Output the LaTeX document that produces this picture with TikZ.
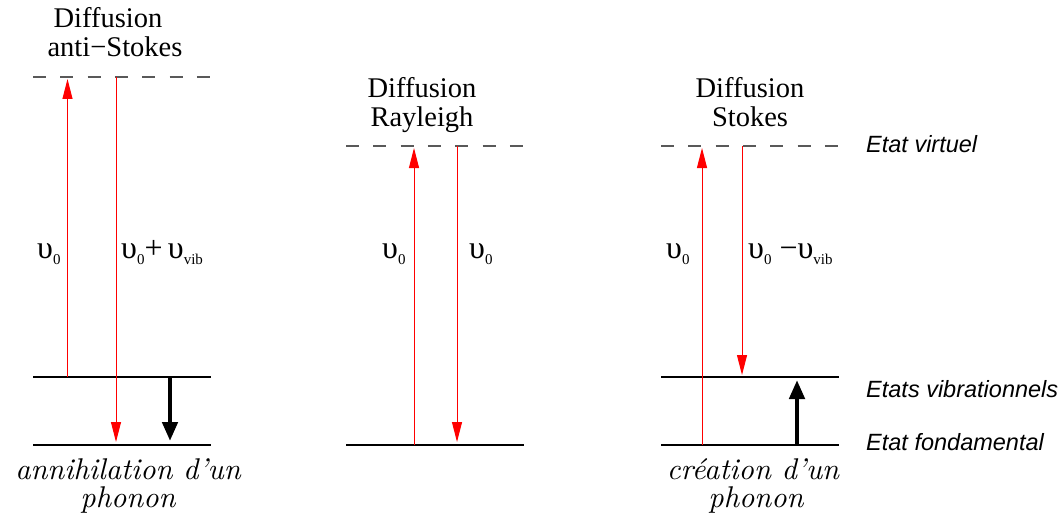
\documentclass[tikz,border=0pt]{standalone}
\usepackage{fontspec}
\usepackage{graphicx}
\newfontfamily\tnr{Liberation Serif}
\newfontfamily\hel{Liberation Sans}
\usetikzlibrary{arrows.meta}
\newcommand\lowsub[1]{\raisebox{-6pt}{\fontsize{15}{15}\selectfont #1}}
\newcommand\bigit[1]{\scalebox{3}{\itshape\fontsize{10}{11}\selectfont #1}}
\begin{document}
\begin{tikzpicture}[x=1pt,y=-1pt,
  level/.style={line width=1.1pt, black},
  virt/.style={line width=1.1pt, black!65, dash pattern=on 13pt off 14.3pt},
  photon/.style={red, line width=1pt, -{Triangle[length=20pt,width=10pt]}},
  phonon/.style={black, line width=4.5pt, -{Triangle[length=19pt,width=15pt]}},
  title/.style={font={\tnr\fontsize{28.5}{30}\selectfont}, anchor=base, inner sep=0pt},
  freq/.style={font={\tnr\fontsize{32}{34}\selectfont}, anchor=base west, inner sep=0pt},
  caption/.style={anchor=base, inner sep=0pt},
  state/.style={font={\hel\itshape\fontsize{23.5}{25}\selectfont}, anchor=base west, inner sep=0pt}]
\useasboundingbox (0,0) rectangle (1064,516);

% ---------- levels ----------
\coordinate (Lv1) at (33,77);  \coordinate (Lv2) at (211,77);
\coordinate (Le1) at (33,377); \coordinate (Le2) at (211,377);
\coordinate (Lg1) at (33,445); \coordinate (Lg2) at (211,445);
\coordinate (Mv1) at (346,146); \coordinate (Mv2) at (524,146);
\coordinate (Mg1) at (346,445); \coordinate (Mg2) at (524,445);
\coordinate (Rv1) at (661,146); \coordinate (Rv2) at (839,146);
\coordinate (Re1) at (661,377); \coordinate (Re2) at (839,377);
\coordinate (Rg1) at (661,445); \coordinate (Rg2) at (839,445);

\draw[virt] (Lv1) -- (Lv2);
\draw[level] (Le1) -- (Le2);
\draw[level] (Lg1) -- (Lg2);
\draw[virt] (Mv1) -- (Mv2);
\draw[level] (Mg1) -- (Mg2);
\draw[virt] (Rv1) -- (Rv2);
\draw[level] (Re1) -- (Re2);
\draw[level] (Rg1) -- (Rg2);

% ---------- arrows ----------
\coordinate (La0) at (67.5,377); \coordinate (La1) at (67.5,79);
\coordinate (Lb0) at (116,77);   \coordinate (Lb1) at (116,442);
\coordinate (Lc0) at (170,377);  \coordinate (Lc1) at (170,441);
\coordinate (Ma0) at (414,445);  \coordinate (Ma1) at (414,148);
\coordinate (Mb0) at (457,146);  \coordinate (Mb1) at (457,442);
\coordinate (Ra0) at (702,445);  \coordinate (Ra1) at (702,148);
\coordinate (Rb0) at (742,146);  \coordinate (Rb1) at (742,375);
\coordinate (Rc0) at (797,445);  \coordinate (Rc1) at (797,380);

\draw[photon] (La0) -- (La1);
\draw[photon] (Lb0) -- (Lb1);
\draw[phonon] (Lc0) -- (Lc1);
\draw[photon] (Ma0) -- (Ma1);
\draw[photon] (Mb0) -- (Mb1);
\draw[photon] (Ra0) -- (Ra1);
\draw[photon] (Rb0) -- (Rb1);
\draw[phonon] (Rc0) -- (Rc1);

% ---------- titles ----------
\node[title] (t1a) at (108,28) {Diffusion};
\node[title] (t1b) at (115,57) {anti−Stokes};
\node[title] (t2a) at (422,98) {Diffusion};
\node[title] (t2b) at (422,126) {Rayleigh};
\node[title] (t3a) at (750,98) {Diffusion};
\node[title] (t3b) at (750,126) {Stokes};

% ---------- frequencies ----------
\node[freq] (f1) at (37,258) {υ\lowsub{0}};
\node[freq] (f2) at (121,258) {υ\lowsub{0}+\,υ\lowsub{vib}};
\node[freq] (f3) at (382,258) {υ\lowsub{0}};
\node[freq] (f4) at (469,258) {υ\lowsub{0}};
\node[freq] (f5) at (666,258) {υ\lowsub{0}};
\node[freq] (f6) at (748,258) {υ\lowsub{0} −υ\lowsub{vib}};

% ---------- captions ----------
\node[caption] (c1a) at (128,479) {\bigit{annihilation d'un}};
\node[caption] (c1b) at (128,507) {\bigit{phonon}};
\node[caption] (c3a) at (753,479) {\bigit{création d'un}};
\node[caption] (c3b) at (756,507) {\bigit{phonon}};

% ---------- states ----------
\node[state] (s1) at (866,152) {Etat virtuel};
\node[state] (s2) at (866,397) {Etats vibrationnels};
\node[state] (s3) at (866,450) {Etat fondamental};
\end{tikzpicture}
\end{document}
